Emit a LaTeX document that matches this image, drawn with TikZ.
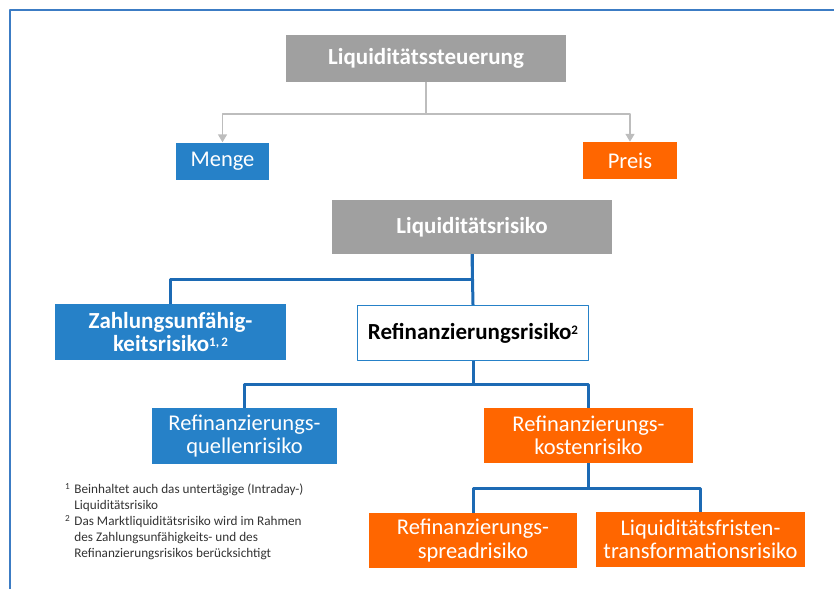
\documentclass[tikz,border=0pt]{standalone}
\usepackage{fontspec}
\setmainfont{Carlito}
\usetikzlibrary{arrows.meta}
\definecolor{grau}{HTML}{A0A0A0}
\definecolor{blau}{HTML}{2681C8}
\definecolor{orange}{HTML}{FF6600}
\definecolor{linie}{HTML}{1C6AB4}
\definecolor{rahmen}{HTML}{3C7CC4}
\definecolor{pfeil}{HTML}{BDBDBD}
\newcommand{\hoch}[1]{\raisebox{0.45ex}{\fontsize{13}{13}\selectfont #1}}
\begin{document}
\begin{tikzpicture}[x=1pt,y=-1pt,line join=round,
    box/.style={inner sep=0pt,align=center,font=\fontsize{22.5}{23.5}\selectfont,text=white},
    fett/.style={font=\fontsize{23}{23.5}\selectfont\bfseries},
    graubox/.style={box,fill=grau,fett},
    blaubox/.style={box,fill=blau},
    orangebox/.style={box,fill=orange},
    gline/.style={pfeil,line width=1.5pt,-{Triangle[width=9pt,length=8pt]}},
    bline/.style={linie,line width=3pt}]
		\useasboundingbox (0,0) rectangle (834,589);
		\draw[rahmen,line width=2pt] (10,589)--(10,10)--(834,10);
		% oberer Teil
		\node[graubox,minimum width=280pt,minimum height=47pt] (steuer) at (426,58.5) {Liquiditätssteuerung};
		\node[blaubox,minimum width=93pt,minimum height=37pt] (menge) at (222.5,161) {Menge};
		\node[orangebox,minimum width=94pt,minimum height=37pt] (preis) at (630,160.5) {Preis};
		\draw[gline] (steuer.south)--++(0,32)-|(menge.north);
		\draw[gline] (steuer.south)--++(0,32)-|(preis.north);
		% Risikobaum
		\node[graubox,minimum width=280pt,minimum height=54pt] (lrisiko) at (472,227) {Liquiditätsrisiko};
		\node[blaubox,fett,minimum width=231pt,minimum height=56pt] (zahl) at (170.5,332) {Zahlungsunfähig-\\keitsrisiko\hoch{1,\,2}};
		\node[box,text=black,draw=blau,line width=1.2pt,fett,minimum width=231pt,minimum height=55pt] (refin) at (473,333) {Refinanzierungsrisiko\hoch{2}};
		\node[blaubox,minimum width=185pt,minimum height=56pt] (quellen) at (244.5,436) {Refinanzierungs-\\quellenrisiko};
		\node[orangebox,minimum width=209pt,minimum height=55pt] (kosten) at (588.5,435.5) {Refinanzierungs-\\kostenrisiko};
		\node[orangebox,minimum width=208pt,minimum height=55pt] (spread) at (473,540.5) {Refinanzierungs-\\spreadrisiko};
		\node[orangebox,minimum width=209pt,minimum height=55pt] (fristen) at (700.5,539.5) {Liquiditätsfristen-\\transformationsrisiko};
		\draw[bline] (lrisiko.south)--++(0,25)-|(zahl.north);
		\draw[bline] (lrisiko.south)--(refin.north);
		\draw[bline] (refin.south)--++(0,23)-|(quellen.north);
		\draw[bline] (refin.south)--++(0,23)-|(kosten.north);
		\draw[bline] (kosten.south)--++(0,25)-|(spread.north);
		\draw[bline] (kosten.south)--++(0,25)-|(fristen.north);
		% Fussnoten
		\node[anchor=north west,inner sep=0pt,text=black!80,font=\fontsize{13.2}{16}\selectfont] (fussnoten) at (65,482) {%
			\begin{tabular}{@{}l@{\hspace{4pt}}l@{}}
				\textsuperscript{1} & Beinhaltet auch das untertägige (Intraday-)\\
				& Liquiditätsrisiko\\
				\textsuperscript{2} & Das Marktliquiditätsrisiko wird im Rahmen\\
				& des Zahlungsunfähigkeits- und des\\
				& Refinanzierungsrisikos berücksichtigt
			\end{tabular}};
\end{tikzpicture}
\end{document}
